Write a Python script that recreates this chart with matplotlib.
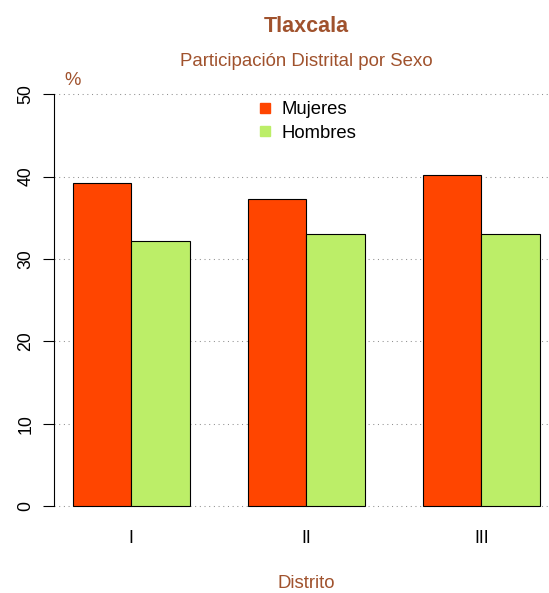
import matplotlib.pyplot as plt
from matplotlib.lines import Line2D

plt.rcParams['font.family'] = ['Liberation Sans', 'DejaVu Sans']

distritos = ['I', 'II', 'III']
mujeres = [39.2, 37.3, 40.2]
hombres = [32.2, 33.0, 33.0]
series = ['Mujeres', 'Hombres']
colores = ['#FF4500', '#BCEE68']
titulo_color = '#A0522D'

W, H = 549, 593


def plot_participacion():
    fig = plt.figure(figsize=(W / 100, H / 100), dpi=100)
    # region de dibujo al estilo R (se sale un poco por la derecha)
    ax = fig.add_axes([54.3 / W, 1 - 522.5 / H, 504 / W, 444.7 / H])

    # cada grupo ocupa 2 barras de ancho 1 con hueco de 1
    inicio = [1 + 3 * i for i in range(len(distritos))]
    x_muj = [s + 0.5 for s in inicio]
    x_hom = [s + 1.5 for s in inicio]
    centros = [s + 1 for s in inicio]

    for y in range(0, 51, 10):
        ax.axhline(y, color='#909090', linestyle=(0, (1, 3.5)), linewidth=0.75, zorder=0)

    ax.bar(x_muj, mujeres, width=1, color=colores[0], edgecolor='black', linewidth=0.8, zorder=2)
    ax.bar(x_hom, hombres, width=1, color=colores[1], edgecolor='black', linewidth=0.8, zorder=2)

    ax.set_xlim(0.68, 9.32)
    ax.set_ylim(-2, 52)

    ax.set_xticks(centros)
    ax.set_xticklabels(distritos, fontsize=12.7)
    ax.tick_params(axis='x', length=0, pad=5.5)

    ax.set_yticks(range(0, 51, 10))
    ax.set_yticklabels([str(v) for v in range(0, 51, 10)], fontsize=12.7, rotation=90, va='center')
    ax.tick_params(axis='y', length=8, width=0.8, pad=6.5)

    for lado in ['top', 'right', 'bottom']:
        ax.spines[lado].set_visible(False)
    ax.spines['left'].set_bounds(0, 50)
    ax.spines['left'].set_linewidth(0.8)

    handles = [Line2D([], [], marker='s', linestyle='none', markersize=6.5,
                      markerfacecolor=c, markeredgecolor=c) for c in colores]
    fig.legend(handles, series, loc='center left', bbox_to_anchor=(255.3 / W, 1 - 121.5 / H),
               frameon=False, fontsize=13.3, handletextpad=0.43, labelspacing=0.33,
               borderpad=0, borderaxespad=0, handlelength=1.0)

    fig.text(306.3 / W, 1 - 32.3 / H, 'Tlaxcala', ha='center', va='baseline',
             fontsize=15.5, fontweight='bold', color=titulo_color)
    fig.text(306.3 / W, 1 - 65.7 / H, 'Participación Distrital por Sexo', ha='center',
             va='baseline', fontsize=13.4, color=titulo_color)
    fig.text(72.5 / W, 1 - 85 / H, '%', ha='center', va='baseline',
             fontsize=13.3, color=titulo_color)
    fig.text(306.3 / W, 1 - 588.5 / H, 'Distrito', ha='center', va='baseline',
             fontsize=13.4, color=titulo_color)

    fig.savefig('out.png', dpi=100)


if __name__ == '__main__':
    plot_participacion()
